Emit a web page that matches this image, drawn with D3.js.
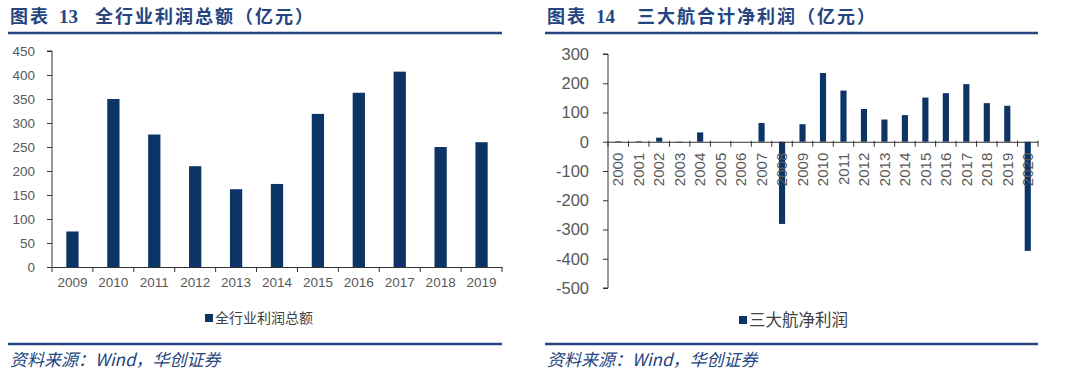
<!DOCTYPE html>
<html>
<head>
<meta charset="utf-8">
<script src="https://cdn.jsdelivr.net/npm/d3@7"></script>
<style>
  body { margin: 0; background: #fff; }
  text { font-family: "Liberation Sans", Arial, "Noto Sans CJK SC", sans-serif; }
  .cjk { font-family: "Noto Sans CJK SC", sans-serif; }
</style>
</head>
<body>
<div id="chart"></div>
<script>
// left chart: 全行业利润总额
const years1 = ["2009", "2010", "2011", "2012", "2013", "2014", "2015", "2016", "2017", "2018", "2019"];
const profit1 = [74, 350, 276, 210, 162, 173, 319, 363, 407, 250, 260];
const yTicks1 = [0, 50, 100, 150, 200, 250, 300, 350, 400, 450];

// right chart: 三大航净利润
const years2 = ["2000", "2001", "2002", "2003", "2004", "2005", "2006", "2007", "2008", "2009", "2010",
                "2011", "2012", "2013", "2014", "2015", "2016", "2017", "2018", "2019", "2020"];
const profit2 = [2, 2, 14, -2, 32, 0, 0, 64, -281, 60, 235, 175, 112, 76, 91, 151, 166, 197, 132, 123, -373];
const yTicks2 = [300, 200, 100, 0, -100, -200, -300, -400, -500];

const barColor = "#0c3566";
const navy = "#24457f";

const svg = d3.select("#chart")
    .append("svg")
    .attr("width", 1080)
    .attr("height", 373);

svg.append("rect").attr("width", 1080).attr("height", 373).attr("fill", "#fff");

function frame(x0, x1, num, title, titleX) {
    const t = svg.append("text")
        .attr("class", "cjk")
        .attr("y", 23)
        .attr("fill", navy)
        .attr("font-weight", "bold")
        .attr("font-size", 18);
    t.append("tspan").attr("x", x0 + 2).attr("letter-spacing", 2).text("图表");
    t.append("tspan").attr("x", x0 + 51).attr("font-family", "Liberation Serif").attr("font-size", 19).text(num);
    t.append("tspan").attr("x", titleX).attr("letter-spacing", 2).text(title);

    svg.append("line")
        .attr("x1", x0).attr("x2", x1)
        .attr("y1", 33).attr("y2", 33)
        .attr("stroke", navy).attr("stroke-width", 2.5);

    svg.append("line")
        .attr("x1", x0).attr("x2", x1)
        .attr("y1", 344).attr("y2", 344)
        .attr("stroke", navy).attr("stroke-width", 2.5);

    svg.append("text")
        .attr("class", "cjk")
        .attr("x", x0 + 2).attr("y", 366)
        .attr("fill", navy)
        .attr("font-size", 17)
        .attr("font-style", "italic")
        .text("资料来源：Wind，华创证券");
}

function legend(x, y, label, size) {
    svg.append("rect")
        .attr("x", x).attr("y", y - 4)
        .attr("width", 8).attr("height", 8)
        .attr("fill", barColor);
    svg.append("text")
        .attr("x", x + 10).attr("y", y)
        .attr("dy", "0.35em")
        .attr("font-size", size)
        .attr("fill", "#404040")
        .text(label);
}

function styleAxis(g) {
    g.selectAll("path, line").attr("stroke", "#333");
    g.selectAll("text").attr("fill", "#595959");
}

// ---- left chart ----
frame(8, 502, "13", "全行业利润总额（亿元）", 95);

const x1 = d3.scaleBand()
    .domain(years1)
    .range([52, 502])
    .paddingInner(0.7)
    .paddingOuter(0.35);

const y1 = d3.scaleLinear()
    .domain([0, 450])
    .range([267, 51]);

svg.append("g")
    .selectAll("rect")
    .data(years1)
    .enter().append("rect")
    .attr("x", d => x1(d))
    .attr("y", (d, i) => y1(profit1[i]))
    .attr("width", x1.bandwidth())
    .attr("height", (d, i) => y1(0) - y1(profit1[i]))
    .attr("fill", barColor);

svg.append("g")
    .attr("transform", "translate(52,0)")
    .call(d3.axisLeft(y1).tickValues(yTicks1).tickSize(5).tickPadding(12))
    .call(g => g.select(".domain").attr("d", `M-5,${y1(450)}H0V${y1(0)}`))
    .attr("font-size", 13.5)
    .call(styleAxis);

// x axis, ticks sit between categories
svg.append("g")
    .attr("transform", `translate(0,${y1(0)})`)
    .call(d3.axisBottom(x1).tickSize(0).tickPadding(10))
    .attr("font-size", 13.5)
    .call(styleAxis);
svg.append("g")
    .selectAll("line")
    .data(d3.range(years1.length + 1))
    .enter().append("line")
    .attr("x1", i => 52 + i * x1.step())
    .attr("x2", i => 52 + i * x1.step())
    .attr("y1", y1(0)).attr("y2", y1(0) + 5)
    .attr("stroke", "#333");

legend(205, 318, "全行业利润总额", 14);

// ---- right chart ----
frame(545, 1038, "14", "三大航合计净利润（亿元）", 637);

const x2 = d3.scaleBand()
    .domain(years2)
    .range([608, 1038])
    .paddingInner(0.7)
    .paddingOuter(0.35);

const y2 = d3.scaleLinear()
    .domain([-500, 300])
    .range([288, 54]);

svg.append("g")
    .selectAll("rect")
    .data(years2)
    .enter().append("rect")
    .attr("x", d => x2(d))
    .attr("y", (d, i) => y2(Math.max(0, profit2[i])))
    .attr("width", x2.bandwidth())
    .attr("height", (d, i) => Math.abs(y2(profit2[i]) - y2(0)))
    .attr("fill", barColor);

svg.append("g")
    .attr("transform", "translate(608,0)")
    .call(d3.axisLeft(y2).tickValues(yTicks2).tickFormat(d => String(d)).tickSize(5).tickPadding(14))
    .call(g => g.select(".domain").attr("d", `M-5,${y2(300)}H0V${y2(-500)}H-5`))
    .attr("font-size", 16.5)
    .call(styleAxis);

svg.append("g")
    .attr("transform", `translate(0,${y2(0)})`)
    .call(d3.axisBottom(x2).tickSize(0))
    .attr("font-size", 15)
    .call(styleAxis)
    .selectAll("text")
    .attr("transform", "rotate(-90)")
    .attr("x", -11)
    .attr("y", 0)
    .attr("dy", "0.35em")
    .style("text-anchor", "end");

svg.append("g")
    .selectAll("line")
    .data(d3.range(years2.length + 1))
    .enter().append("line")
    .attr("x1", i => 608 + i * x2.step())
    .attr("x2", i => 608 + i * x2.step())
    .attr("y1", y2(0) - 1).attr("y2", y2(0) + 5)
    .attr("stroke", "#333");

legend(739, 320, "三大航净利润", 16.5);
</script>
</body>
</html>
